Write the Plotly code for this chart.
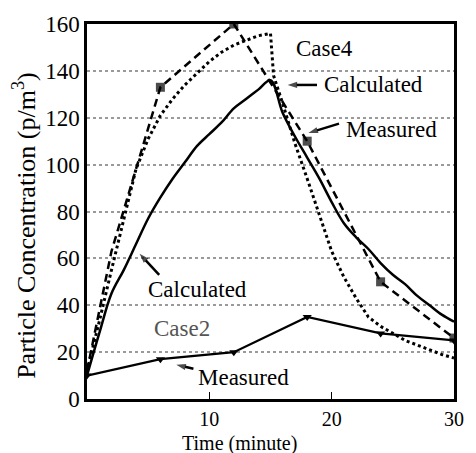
import plotly.graph_objects as go

# Case 4 - calculated (dotted)
c4_calc_t = [0, 0.5, 1, 2, 3, 4, 5, 6, 7, 8, 9, 10, 11, 12, 13, 14, 15, 15.25, 16, 17, 18,
             19, 20, 21, 22, 23, 24, 25, 26, 27, 28, 29, 30]
c4_calc_v = [12, 22, 33, 55, 76, 98, 111, 121, 128, 134, 139, 144, 148, 151, 153, 155, 156, 138, 126, 109, 94,
             78, 63, 52, 43, 35, 31, 28, 25, 23, 21, 19, 17.5]

# Case 4 - measured (dashed, squares)
c4_meas_t = [0, 2, 6, 12, 18, 24, 30]
c4_meas_v = [12, 63, 133, 160, 110, 50, 26]
c4_meas_marker = [0, 0, 9, 9, 9, 9, 9]

# Case 2 - calculated (solid)
c2_calc_t = [0, 1, 2, 3, 4, 5, 6, 7, 8, 9, 10, 11, 12, 13, 14, 15, 16, 17, 18, 19, 20,
             21, 22, 23, 24, 25, 26, 27, 28, 29, 30]
c2_calc_v = [10, 28, 45, 55, 66, 77, 86, 94, 101, 108, 113, 118, 124, 128, 132, 136, 122, 112, 103, 94, 84,
             75, 69, 64, 58, 53, 49, 44, 40, 36, 33]

# Case 2 - measured (solid, triangles)
c2_meas_t = [0, 6, 12, 18, 24, 30]
c2_meas_v = [10, 17, 20, 35, 28, 25]

y_ticks = [0, 20, 40, 60, 80, 100, 120, 140, 160]
x_ticks = [10, 20, 30]

FONT = "Liberation Serif, Times New Roman, serif"

fig = go.Figure()
fig.add_trace(go.Scatter(x=c4_calc_t, y=c4_calc_v, mode="lines",
                         line=dict(color="black", width=3, dash="3px,3px"), name="Case4 calculated"))
fig.add_trace(go.Scatter(x=c4_meas_t, y=c4_meas_v, mode="lines+markers",
                         line=dict(color="black", width=2.5, dash="8px,5px"),
                         marker=dict(symbol="square", size=c4_meas_marker, color="black",
                                     line=dict(width=0)),
                         name="Case4 measured"))
fig.add_trace(go.Scatter(x=c2_calc_t, y=c2_calc_v, mode="lines", line_shape="spline",
                         line=dict(color="black", width=2.5), name="Case2 calculated"))
fig.add_trace(go.Scatter(x=c2_meas_t, y=c2_meas_v, mode="lines+markers",
                         line=dict(color="black", width=2.2),
                         marker=dict(symbol="triangle-down", size=8, color="black", line=dict(width=0)),
                         name="Case2 measured"))

# label arrows: (tail x, tail y, head x, head y)
arrows = [
    (18.8, 134, 16.4, 134),
    (20.6, 117.5, 18.1, 113.5),
    (5.9, 53, 4.3, 62),
    (8.7, 12.9, 7.3, 14.6),
]
for tx, ty, hx, hy in arrows:
    fig.add_trace(go.Scatter(x=[tx, hx], y=[ty, hy], mode="lines+markers",
                             line=dict(color="black", width=2.5),
                             marker=dict(symbol=["circle", "arrow"], size=[0, 10], color="black",
                                         angleref="previous", line=dict(width=0)),
                             hoverinfo="skip"))

texts = [
    dict(x=19.4, y=149.6, text="Case4", color="black"),
    dict(x=23.4, y=134, text="Calculated", color="black"),
    dict(x=24.9, y=115, text="Measured", color="black"),
    dict(x=9.05, y=46.7, text="Calculated", color="black"),
    dict(x=7.8, y=30, text="Case2", color="#555555"),
    dict(x=12.8, y=9.2, text="Measured", color="black"),
]
for t in texts:
    fig.add_annotation(x=t["x"], y=t["y"], text=t["text"], showarrow=False,
                       font=dict(family=FONT, size=23, color=t["color"]))

# axis titles (positions given in pixels, converted to paper coordinates below)
W, H = 476, 453
L, R, T, B = 87, 18, 15, 54
pw, ph = W - L - R, H - T - B

def px_to_paper(px, py):
    return (px - L) / pw, (H - B - py) / ph

xt_x, xt_y = px_to_paper(241, 445)
yt_x, yt_y = px_to_paper(24, 221)
fig.add_annotation(x=xt_x, y=xt_y, xref="paper", yref="paper", text="Time (minute)",
                   showarrow=False, xanchor="center", yanchor="middle",
                   font=dict(family=FONT, size=20))
fig.add_annotation(x=yt_x, y=yt_y, xref="paper", yref="paper",
                   text="Particle Concentration (p/m<sup>3</sup>)", showarrow=False,
                   xanchor="center", yanchor="middle", textangle=-90,
                   font=dict(family=FONT, size=26))

fig.update_layout(
    width=W, height=H,
    margin=dict(l=L, r=R, t=T, b=B),
    paper_bgcolor="white", plot_bgcolor="white",
    showlegend=False,
    font=dict(family=FONT, color="black"),
)

fig.update_xaxes(range=[0, 30], tickvals=x_ticks, ticktext=[str(v) for v in x_ticks],
                 showline=True, linecolor="black", linewidth=2.5, mirror=True,
                 ticks="inside", ticklen=7, tickwidth=1, tickcolor="black",
                 showgrid=False, zeroline=False,
                 tickfont=dict(family=FONT, size=20))
fig.update_yaxes(range=[0, 160], tickvals=y_ticks, ticktext=[str(v) for v in y_ticks],
                 showline=True, linecolor="black", linewidth=2.5, mirror=True,
                 ticks="", showgrid=True, gridcolor="#9a9a9a", griddash="dot", gridwidth=1.5,
                 zeroline=False,
                 tickfont=dict(family=FONT, size=23))

fig.write_html("out.html")
